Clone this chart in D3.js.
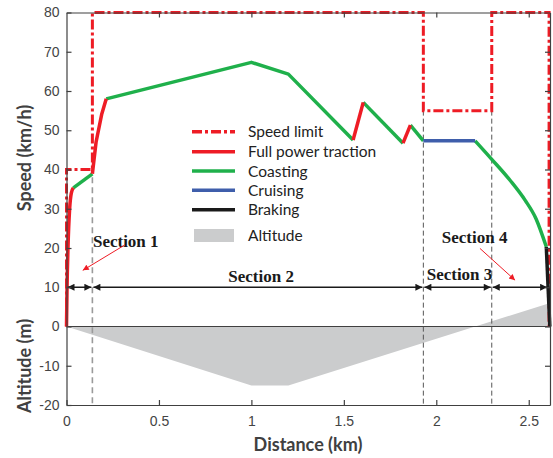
<!DOCTYPE html>
<html>
<head>
<meta charset="utf-8">
<script src="https://cdn.jsdelivr.net/npm/d3@7"></script>
<style>
  body { margin: 0; background: #fff; }
  svg { display: block; }
</style>
</head>
<body>
<div id="chart"></div>
<script>
// speed limit profile (km, km/h)
const speedLimit = [[0, 0], [0, 40], [0.14, 40], [0.14, 80], [1.93, 80], [1.93, 55],
  [2.3, 55], [2.3, 80], [2.61, 80], [2.61, 0]];

// trajectory pieces by operating mode
const traction = [
  [[0, 0], [0.003, 10], [0.008, 20], [0.017, 30], [0.026, 34], [0.037, 35.3]],
  [[0.14, 38.9], [0.16, 47], [0.19, 54], [0.215, 58]],
  [[1.55, 47.5], [1.605, 57.1]],
  [[1.82, 46.7], [1.86, 51.3]]
];
const coasting = [
  [[0.037, 35.3], [0.14, 38.9]],
  [[0.215, 58], [1.0, 67.3], [1.2, 64.3], [1.55, 47.5]],
  [[1.605, 57.1], [1.82, 46.7]],
  [[1.86, 51.3], [1.93, 47.3]],
  [[2.21, 47.3], [2.3, 42.6], [2.4, 37.2], [2.48, 32.2], [2.54, 27.4], [2.595, 20.3]]
];
const cruising = [[[1.93, 47.3], [2.21, 47.3]]];
const braking = [[[2.595, 20.3], [2.614, 0]]];

// altitude profile (km, m)
const altitude = [[0, 0], [1.0, -15], [1.2, -15], [2.615, 6]];

// sections
const sectionBounds = [0, 0.14, 1.93, 2.3, 2.605];
const dividerTops = [38, 55, 55];
const sectionLabels = ["Section 1", "Section 2", "Section 3", "Section 4"];
const sectionLabelPos = [[0.143, 20.3], [0.875, 11.4], [1.948, 11.8], [2.03, 21.2]];
const pointerArrows = [[[0.316, 20.8], [0.088, 14.3]], [[2.236, 19.9], [2.426, 11.8]]];

const xTicks = [0, 0.5, 1, 1.5, 2, 2.5];
const yTicks = [-20, -10, 0, 10, 20, 30, 40, 50, 60, 70, 80];

const width = 553;
const height = 458;

const svg = d3.select("#chart").append("svg")
  .attr("width", width)
  .attr("height", height);

const x = d3.scaleLinear().domain([0, 2.615]).range([66.5, 550]);
const y = d3.scaleLinear().domain([-20, 80]).range([405, 12.5]);

const axisColor = "#404040";

const defs = svg.append("defs");
defs.append("marker")
  .attr("id", "blackHead")
  .attr("viewBox", "0 0 10 10")
  .attr("refX", 10).attr("refY", 5)
  .attr("markerWidth", 8).attr("markerHeight", 7)
  .attr("markerUnits", "userSpaceOnUse")
  .attr("orient", "auto-start-reverse")
  .append("path").attr("d", "M0,0L10,5L0,10Z").attr("fill", "#1a1a1a");
defs.append("marker")
  .attr("id", "redHead")
  .attr("viewBox", "0 0 10 10")
  .attr("refX", 10).attr("refY", 5)
  .attr("markerWidth", 8).attr("markerHeight", 6)
  .attr("markerUnits", "userSpaceOnUse")
  .attr("orient", "auto")
  .append("path").attr("d", "M0,0L10,5L0,10Z").attr("fill", "#ee1c25");

// altitude area
svg.append("path")
  .datum(altitude)
  .attr("d", d3.area().x(d => x(d[0])).y0(y(0)).y1(d => y(d[1])))
  .attr("fill", "#cbcccd");

// zero line
svg.append("line")
  .attr("x1", x(0)).attr("x2", x(2.615))
  .attr("y1", y(0)).attr("y2", y(0))
  .attr("stroke", axisColor).attr("stroke-width", 1.2);

// section dividers
svg.selectAll(".divider")
  .data(sectionBounds.slice(1, 4))
  .enter().append("line")
  .attr("class", "divider")
  .attr("x1", d => x(d)).attr("x2", d => x(d))
  .attr("y1", (d, i) => y(dividerTops[i])).attr("y2", y(-20))
  .attr("stroke", (d, i) => i === 0 ? "#9a9a9a" : "#555")
  .attr("stroke-width", (d, i) => i === 0 ? 1.6 : 1)
  .attr("stroke-dasharray", (d, i) => i === 0 ? "6,4" : "5,3");

const line = d3.line().x(d => x(d[0])).y(d => y(d[1]));
const curve = d3.line().x(d => x(d[0])).y(d => y(d[1])).curve(d3.curveMonotoneX);

// speed limit
svg.append("path")
  .datum(speedLimit)
  .attr("d", line)
  .attr("fill", "none")
  .attr("stroke", "#ee1c25")
  .attr("stroke-width", 3)
  .attr("stroke-dasharray", "10,3,3,3");

function drawMode(segs, color) {
  svg.append("g").selectAll("path")
    .data(segs)
    .enter().append("path")
    .attr("d", d => d.length > 4 ? curve(d) : line(d))
    .attr("fill", "none")
    .attr("stroke", color)
    .attr("stroke-width", 3.5)
    .attr("stroke-linejoin", "round");
}
drawMode(coasting, "#1fb04b");
drawMode(cruising, "#3f5eab");
drawMode(traction, "#ee1c25");
drawMode(braking, "#1a1a1a");

// section arrows
svg.selectAll(".secArrow")
  .data(d3.pairs(sectionBounds))
  .enter().append("line")
  .attr("class", "secArrow")
  .attr("x1", d => x(d[0]) + 1).attr("x2", d => x(d[1]) - 1)
  .attr("y1", y(10)).attr("y2", y(10))
  .attr("stroke", "#1a1a1a").attr("stroke-width", 1.5)
  .attr("marker-start", "url(#blackHead)")
  .attr("marker-end", "url(#blackHead)");

svg.selectAll(".secLabel")
  .data(sectionLabels)
  .enter().append("text")
  .attr("class", "secLabel")
  .attr("x", (d, i) => x(sectionLabelPos[i][0]))
  .attr("y", (d, i) => y(sectionLabelPos[i][1]))
  .attr("font-family", "'Liberation Serif', 'DejaVu Serif', serif")
  .attr("font-weight", "bold")
  .attr("font-size", 17)
  .attr("fill", "#1a1a1a")
  .text(d => d);

svg.selectAll(".pointer")
  .data(pointerArrows)
  .enter().append("line")
  .attr("class", "pointer")
  .attr("x1", d => x(d[0][0])).attr("y1", d => y(d[0][1]))
  .attr("x2", d => x(d[1][0])).attr("y2", d => y(d[1][1]))
  .attr("stroke", "#ee1c25").attr("stroke-width", 1)
  .attr("marker-end", "url(#redHead)");

// axes
const tickFont = "'Liberation Sans', Arial, sans-serif";
function styleAxis(g) {
  g.select(".domain").attr("stroke", axisColor).attr("stroke-width", 1.2);
  g.selectAll(".tick line").attr("stroke", axisColor).attr("stroke-width", 1.2);
  g.selectAll(".tick text").attr("fill", "#444").attr("font-family", tickFont).attr("font-size", 14);
}

svg.append("g")
  .attr("transform", `translate(0,${y(-20)})`)
  .call(d3.axisBottom(x).tickValues(xTicks).tickSize(-5).tickSizeOuter(0).tickPadding(11).tickFormat(d => String(d)))
  .call(styleAxis);
svg.append("g")
  .attr("transform", `translate(0,${y(80)})`)
  .call(d3.axisTop(x).tickValues(xTicks.slice(1)).tickSize(-5).tickSizeOuter(0).tickFormat(""))
  .call(styleAxis);
svg.append("g")
  .attr("transform", `translate(${x(0)},0)`)
  .call(d3.axisLeft(y).tickValues(yTicks).tickSize(-5).tickSizeOuter(0).tickPadding(7).tickFormat(d => String(d)))
  .call(styleAxis);
svg.append("g")
  .attr("transform", `translate(${x(2.615)},0)`)
  .call(d3.axisRight(y).tickValues(yTicks.slice(1, 10)).tickSize(-5).tickSizeOuter(0).tickFormat(""))
  .call(styleAxis);

// axis titles
const titleFont = "Lato, 'Open Sans', sans-serif";
svg.append("text")
  .attr("x", 308).attr("y", 451)
  .attr("text-anchor", "middle")
  .attr("font-family", titleFont).attr("font-weight", "bold").attr("font-size", 18)
  .attr("fill", "#404040")
  .text("Distance (km)");
svg.append("text")
  .attr("transform", "translate(31,158) rotate(-90)")
  .attr("text-anchor", "middle")
  .attr("font-family", titleFont).attr("font-weight", "bold").attr("font-size", 18)
  .attr("fill", "#404040")
  .text("Speed (km/h)");
svg.append("text")
  .attr("transform", "translate(31,366) rotate(-90)")
  .attr("text-anchor", "middle")
  .attr("font-family", titleFont).attr("font-weight", "bold").attr("font-size", 18)
  .attr("fill", "#404040")
  .text("Altitude (m)");

// legend
const legendItems = [
  { label: "Speed limit", color: "#ee1c25", dash: "10,3,3,3", type: "line" },
  { label: "Full power traction", color: "#ee1c25", dash: null, type: "line" },
  { label: "Coasting", color: "#1fb04b", dash: null, type: "line" },
  { label: "Cruising", color: "#3f5eab", dash: null, type: "line" },
  { label: "Braking", color: "#1a1a1a", dash: null, type: "line" },
  { label: "Altitude", color: "#cbcccd", dash: null, type: "rect" }
];
const legendRows = [131.7, 151.7, 171, 190.3, 209.7, 235.5];
const legend = svg.append("g");
legendItems.forEach((item, i) => {
  const ly = legendRows[i];
  if (item.type === "line") {
    legend.append("line")
      .attr("x1", 192).attr("x2", 235)
      .attr("y1", ly).attr("y2", ly)
      .attr("stroke", item.color).attr("stroke-width", 3.5)
      .attr("stroke-dasharray", item.dash);
  } else {
    legend.append("rect")
      .attr("x", 194).attr("y", ly - 6.5)
      .attr("width", 40).attr("height", 13)
      .attr("fill", item.color);
  }
  legend.append("text")
    .attr("x", 248).attr("y", ly)
    .attr("dy", "0.36em")
    .attr("font-family", "Lato, sans-serif").attr("font-size", 15.5)
    .attr("fill", "#222")
    .text(item.label);
});
</script>
</body>
</html>
